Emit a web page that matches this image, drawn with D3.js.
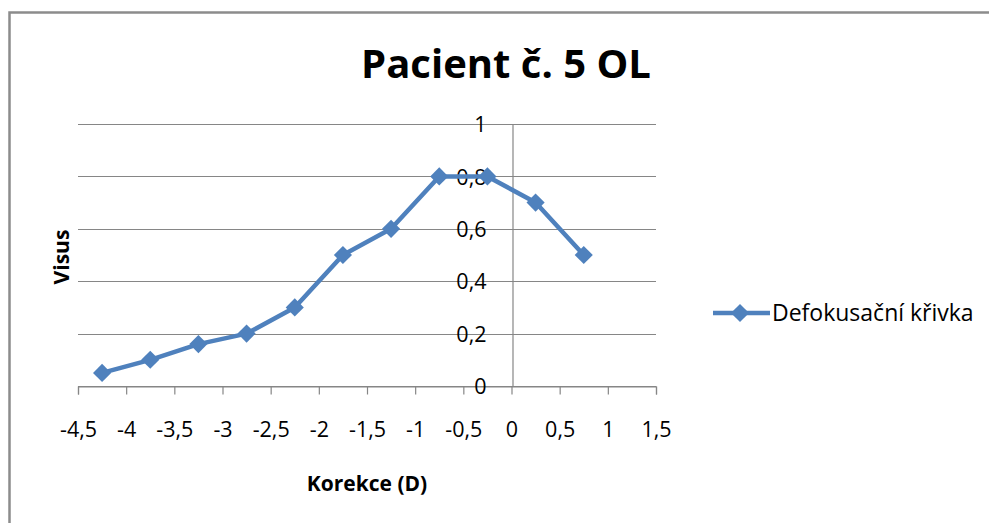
<!DOCTYPE html>
<html><head><meta charset="utf-8">
<script src="https://cdn.jsdelivr.net/npm/d3@7"></script>
<style>body{margin:0;background:#fff}svg{display:block}text{font-family:"Open Sans",sans-serif}</style>
</head><body><svg id="c" width="989" height="523"></svg>
<script>
const korekce = [-4.25, -3.75, -3.25, -2.75, -2.25, -1.75, -1.25, -0.75, -0.25, 0.25, 0.75];
const visus = [0.05, 0.1, 0.16, 0.2, 0.3, 0.5, 0.6, 0.8, 0.8, 0.7, 0.5];
const xTicks = [-4.5, -4, -3.5, -3, -2.5, -2, -1.5, -1, -0.5, 0, 0.5, 1, 1.5];
const yTicks = [0, 0.2, 0.4, 0.6, 0.8, 1];
const seriesName = "Defokusační křivka";
const title = "Pacient č. 5 OL";
const xTitle = "Korekce (D)";
const yTitle = "Visus";

const svg = d3.select("#c");
const color = "#4F81BD", grid = "#868686";
const fmt = v => String(v).replace(".", ",");
const FONT = '"Open Sans", sans-serif';

svg.append("rect").attr("x", 9.5).attr("y", 12.5).attr("width", 1000).attr("height", 600)
  .attr("fill", "none").attr("stroke", "#8c8c8c").attr("stroke-width", 2.5);

const x = d3.scaleLinear().domain([-4.5, 1.5]).range([78, 656]);
const y = d3.scaleLinear().domain([0, 1]).range([386, 124]);

// gridlines
svg.append("g").selectAll("line").data(yTicks).join("line")
  .attr("x1", x(-4.5)).attr("x2", x(1.5)).attr("y1", d => Math.round(y(d)) + 0.5).attr("y2", d => Math.round(y(d)) + 0.5)
  .attr("stroke", grid).attr("stroke-width", 1.2);

// x axis
const xa = svg.append("g").attr("transform", `translate(0,${Math.round(y(0)) + 0.5})`)
  .call(d3.axisBottom(x).tickValues(xTicks).tickSize(8).tickFormat(fmt));
xa.select(".domain").attr("stroke", grid).attr("stroke-width", 1.2);
xa.selectAll(".tick line").attr("stroke", grid).attr("stroke-width", 1.2);
xa.selectAll(".tick text").attr("y", 50).attr("dy", 0).attr("font-size", 21.5).attr("fill", "#000")
  .style("font-family", FONT);

// y axis at x=0
const ya = svg.append("g").attr("transform", `translate(${Math.round(x(0)) + 0.5},0)`)
  .call(d3.axisLeft(y).tickValues(yTicks).tickSize(0).tickPadding(26).tickFormat(fmt));
ya.select(".domain").attr("stroke", grid).attr("stroke-width", 1.2);
ya.selectAll(".tick text").attr("font-size", 21.5).attr("fill", "#000").attr("dy", "0.36em")
  .style("font-family", FONT);

// line
const pts = korekce.map((k, i) => [k, visus[i]]);
svg.append("path").datum(pts)
  .attr("d", d3.line().x(d => x(d[0])).y(d => y(d[1])))
  .attr("fill", "none").attr("stroke", color).attr("stroke-width", 4.5).attr("stroke-linejoin", "round");
const diamond = d3.symbol().type(d3.symbolDiamond2).size(210);
svg.append("g").selectAll("path").data(pts).join("path")
  .attr("transform", d => `translate(${x(d[0])},${y(d[1])})`)
  .attr("d", diamond).attr("fill", color);

// titles
svg.append("text").attr("x", 506).attr("y", 78).attr("text-anchor", "middle")
  .attr("font-size", 40).attr("font-weight", "bold").text(title);
svg.append("text").attr("x", 367).attr("y", 491).attr("text-anchor", "middle")
  .attr("font-size", 21).attr("font-weight", "bold").text(xTitle);
svg.append("text").attr("transform", "translate(69,257) rotate(-90)").attr("text-anchor", "middle")
  .attr("font-size", 21).attr("font-weight", "bold").text(yTitle);

// legend
const lg = svg.append("g").attr("transform", "translate(0,313)");
lg.append("line").attr("x1", 713).attr("x2", 770).attr("y1", 0).attr("y2", 0).attr("stroke", color).attr("stroke-width", 4.5);
lg.append("path").attr("transform", "translate(740,0)").attr("d", diamond).attr("fill", color);
lg.append("text").attr("x", 772).attr("y", 0).attr("dy", "0.36em").attr("font-size", 23).text(seriesName);
</script></body></html>
